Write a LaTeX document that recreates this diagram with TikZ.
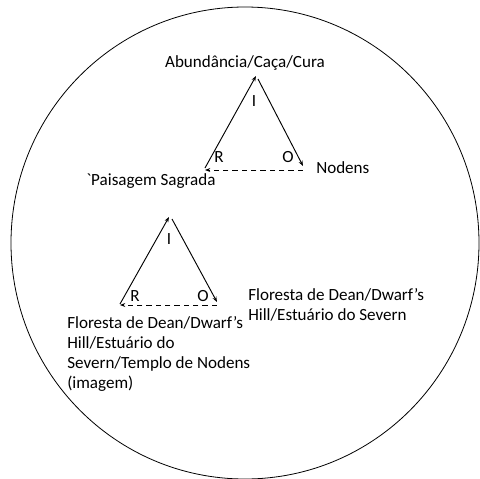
\documentclass[tikz,border=0pt]{standalone}
\usepackage{fontspec}
\setmainfont{Carlito}
\newfontfamily\plainchars{Carlito}[Ligatures=TeXOff]
\usetikzlibrary{arrows.meta}
\begin{document}
\begin{tikzpicture}[x=0.75pt,y=-0.75pt,
  lbl/.style={inner sep=0pt,font=\fontsize{12.8}{15}\selectfont},
  edge/.style={line width=0.7pt,-{Stealth[length=4pt,width=3pt]}},
  back/.style={line width=0.7pt,dashed,dash pattern=on 4pt off 3pt,-{Stealth[length=4pt,width=3pt]}}]
\useasboundingbox (0,0) rectangle (480,479);
% outer circle
\draw[line width=0.6pt] (245,243) ellipse [x radius=234, y radius=236];

% upper triangle
\coordinate (ta) at (256,76);
\coordinate (tb) at (258,79);
\coordinate (tl) at (205,168);
\coordinate (tr) at (303,166);
\coordinate (trd) at (303,170);
\coordinate (tld) at (205,170);
\draw[edge] (tl) -- (ta);
\draw[edge] (tb) -- (tr);
\draw[back] (trd) -- (tld);
\node[lbl] (tI) at (254,101) {I};
\node[lbl] (tR) at (219,157) {R};
\node[lbl] (tO) at (288,157) {O};
\node[lbl] (top) at (245,63) {Abundância/Caça/Cura};
\node[lbl,anchor=west] (nod) at (316,168) {Nodens};
\node[lbl,anchor=west] (pais) at (86,181) {{\plainchars`}Paisagem Sagrada};

% lower triangle
\coordinate (ba) at (169,217);
\coordinate (bb) at (172,219);
\coordinate (bl) at (120,304);
\coordinate (br) at (217,302);
\coordinate (brd) at (217,305);
\coordinate (bld) at (120,305);
\draw[edge] (bl) -- (ba);
\draw[edge] (bb) -- (br);
\draw[back] (brd) -- (bld);
\node[lbl] (bI) at (169,239) {I};
\node[lbl] (bR) at (135,296) {R};
\node[lbl] (bO) at (203,296) {O};
\node[lbl,anchor=north west,align=left] (fr) at (248,288)
  {Floresta de Dean/Dwarf’s\\Hill/Estuário do Severn};
\node[lbl,anchor=north west,align=left] (fl) at (67,316)
  {Floresta de Dean/Dwarf’s\\Hill/Estuário do\\Severn/Templo de Nodens\\(imagem)};
\end{tikzpicture}
\end{document}
